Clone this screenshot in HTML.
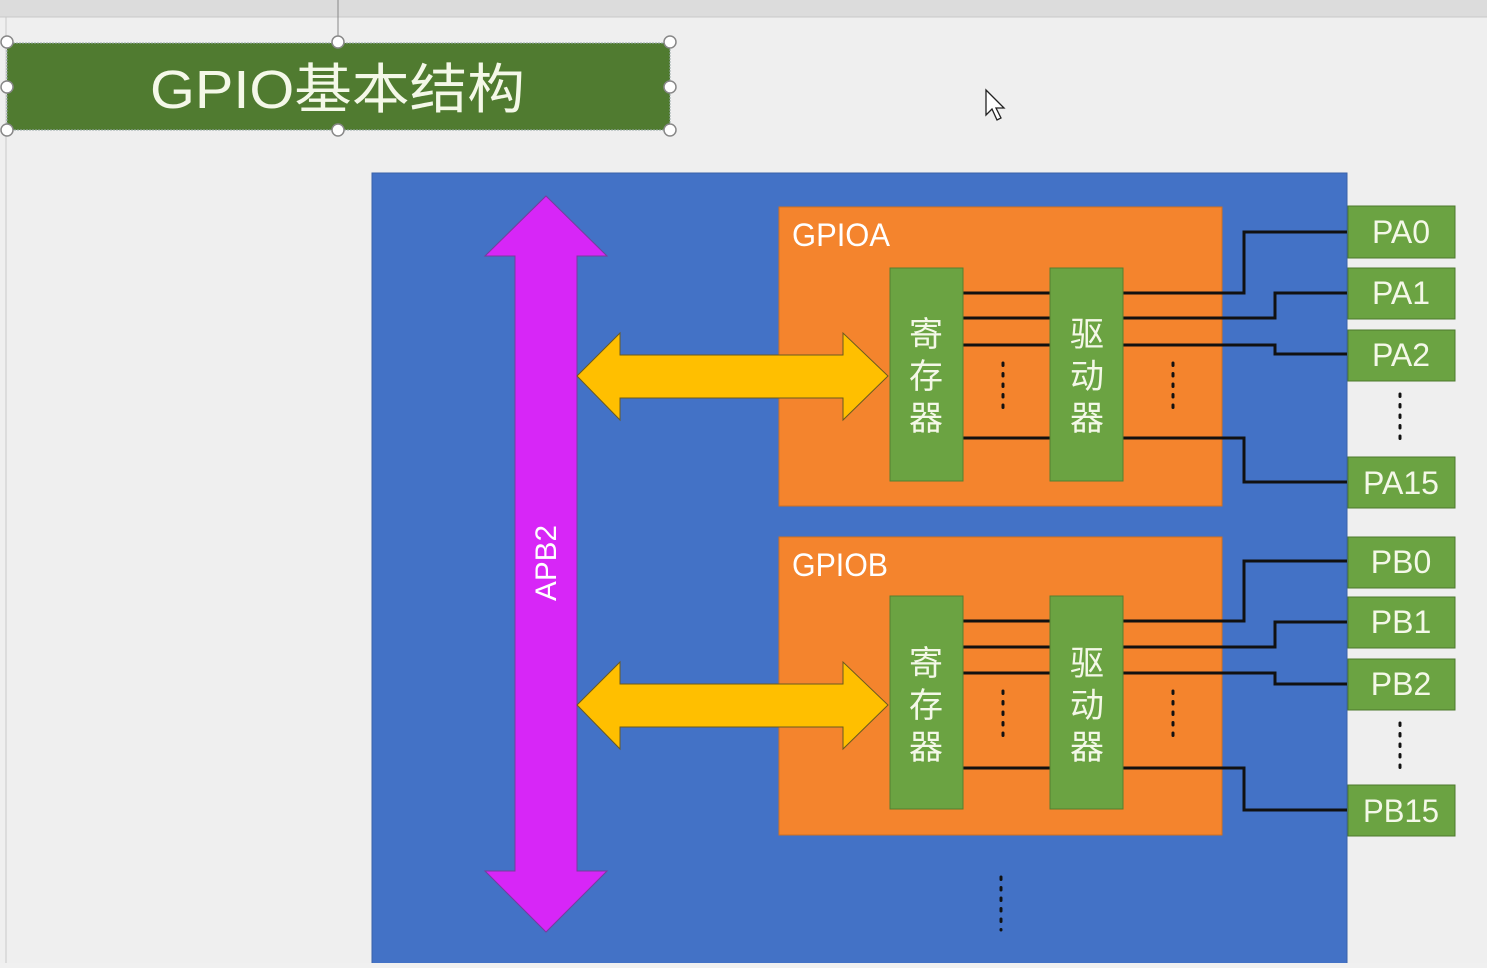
<!DOCTYPE html>
<html><head><meta charset="utf-8"><style>
html,body{margin:0;padding:0;background:#f0f0f0;}
body{width:1487px;height:963px;overflow:hidden;}
svg text{font-family:"Liberation Sans","Noto Sans CJK SC",sans-serif;}
</style></head><body>
<svg width="1487" height="963" viewBox="0 0 1487 963" xmlns="http://www.w3.org/2000/svg">
<rect x="0" y="0" width="1487" height="963" fill="#efefef"/>
<rect x="0" y="0" width="1487" height="17" fill="#dcdcdc"/>
<line x1="0" y1="17" x2="1487" y2="17" fill="none" stroke="#c8c8c8"/>
<line x1="6" y1="17" x2="6" y2="963" stroke="#c8c8c8"/>
<line x1="338" y1="0" x2="338" y2="42" stroke="#888"/>
<!-- title -->
<rect x="7" y="43" width="663" height="87" fill="#507b30" stroke="#9aa" stroke-dasharray="2 1"/>
<text x="150" y="108" font-size="54" fill="#f4f8e8" textLength="375" lengthAdjust="spacingAndGlyphs">GPIO基本结构</text>
<g fill="#fff" stroke="#888" stroke-width="1.5">
<circle cx="7" cy="42" r="6"/><circle cx="338" cy="42" r="6"/><circle cx="670" cy="42" r="6"/>
<circle cx="7" cy="87" r="6"/><circle cx="670" cy="87" r="6"/>
<circle cx="7" cy="130" r="6"/><circle cx="338" cy="130" r="6"/><circle cx="670" cy="130" r="6"/>
</g>
<!-- cursor -->
<path d="M986 90 L986 115 L992 109 L997 120 L1001 118 L996 108 L1004 108 Z" fill="#fff" stroke="#222" stroke-width="1.3"/>
<!-- blue -->
<rect x="372" y="173" width="975" height="800" fill="#4372c6" stroke="#3a62a8"/>
<!-- APB2 -->
<polygon points="546,196 607,256 577,256 577,871 607,871 546,932 485,871 515,871 515,256 485,256" fill="#d726f7" stroke="#7a3a9c" stroke-width="1"/>
<text x="546" y="563" font-size="30" fill="#fff" text-anchor="middle" transform="rotate(-90 546 563)" dy="10" textLength="76" lengthAdjust="spacingAndGlyphs">APB2</text>
<!-- orange boxes -->
<rect x="779" y="207" width="443" height="299" fill="#f4842d" stroke="#d07020"/>
<rect x="779" y="537" width="443" height="298" fill="#f4842d" stroke="#d07020"/>
<text x="792" y="246" font-size="32" fill="#fff" textLength="98" lengthAdjust="spacingAndGlyphs">GPIOA</text>
<text x="792" y="576" font-size="32" fill="#fff" textLength="96" lengthAdjust="spacingAndGlyphs">GPIOB</text>
<!-- yellow arrows -->
<polygon points="577,376 620,333 620,355 843,355 843,333 888,376 843,420 843,398 620,398 620,420" fill="#ffbf00" stroke="#6a5a20" stroke-width="1"/>
<polygon points="577,705 620,662 620,684 843,684 843,662 888,705 843,749 843,727 620,727 620,749" fill="#ffbf00" stroke="#6a5a20" stroke-width="1"/>
<!-- wires -->
<g stroke="#111" stroke-width="3" fill="none">
<path d="M963 293 H1050 M963 318 H1050 M963 345 H1050 M963 438 H1050"/>
<path d="M1123 293 H1244 V232 H1347 M1123 318 H1275 V293 H1347 M1123 345 H1275 V354 H1347 M1123 438 H1244 V482 H1347"/>
<path d="M963 621 H1050 M963 647 H1050 M963 673 H1050 M963 768 H1050"/>
<path d="M1123 621 H1244 V561 H1347 M1123 647 H1275 V622 H1347 M1123 673 H1275 V684 H1347 M1123 768 H1244 V810 H1347"/>
</g>
<!-- registers -->
<g fill="#6ba342" stroke="#557f30">
<rect x="890" y="268" width="73" height="213"/><rect x="1050" y="268" width="73" height="213"/>
<rect x="890" y="596" width="73" height="213"/><rect x="1050" y="596" width="73" height="213"/>
</g>
<g font-size="34" fill="#f4f8e8" text-anchor="middle">
<text x="926" y="346">寄</text><text x="926" y="388">存</text><text x="926" y="430">器</text>
<text x="1087" y="346">驱</text><text x="1087" y="388">动</text><text x="1087" y="430">器</text>
<text x="926" y="675">寄</text><text x="926" y="717">存</text><text x="926" y="759">器</text>
<text x="1087" y="675">驱</text><text x="1087" y="717">动</text><text x="1087" y="759">器</text>
</g>
<!-- dots -->
<g stroke="#111" stroke-width="3" stroke-dasharray="2.5 8" stroke-linecap="round">
<line x1="1003" y1="363" x2="1003" y2="410"/><line x1="1173" y1="363" x2="1173" y2="410"/>
<line x1="1003" y1="691" x2="1003" y2="738"/><line x1="1173" y1="691" x2="1173" y2="738"/>
<line x1="1400" y1="394" x2="1400" y2="441"/><line x1="1400" y1="723" x2="1400" y2="770"/>
<line x1="1001" y1="877" x2="1001" y2="930"/>
</g>
<!-- pins -->
<g fill="#6ba342" stroke="#4d7a2c">
<rect x="1348" y="206" width="107" height="52"/><rect x="1348" y="268" width="107" height="51"/>
<rect x="1348" y="330" width="107" height="51"/><rect x="1348" y="457" width="107" height="51"/>
<rect x="1348" y="537" width="107" height="51"/><rect x="1348" y="597" width="107" height="51"/>
<rect x="1348" y="659" width="107" height="51"/><rect x="1348" y="785" width="107" height="51"/>
</g>
<g font-size="32" fill="#f4f8e8" text-anchor="middle">
<text x="1401" y="243">PA0</text><text x="1401" y="304">PA1</text><text x="1401" y="366">PA2</text><text x="1401" y="494" textLength="76" lengthAdjust="spacingAndGlyphs">PA15</text>
<text x="1401" y="573">PB0</text><text x="1401" y="633">PB1</text><text x="1401" y="695">PB2</text><text x="1401" y="822" textLength="76" lengthAdjust="spacingAndGlyphs">PB15</text>
</g>
</svg>
</body></html>
